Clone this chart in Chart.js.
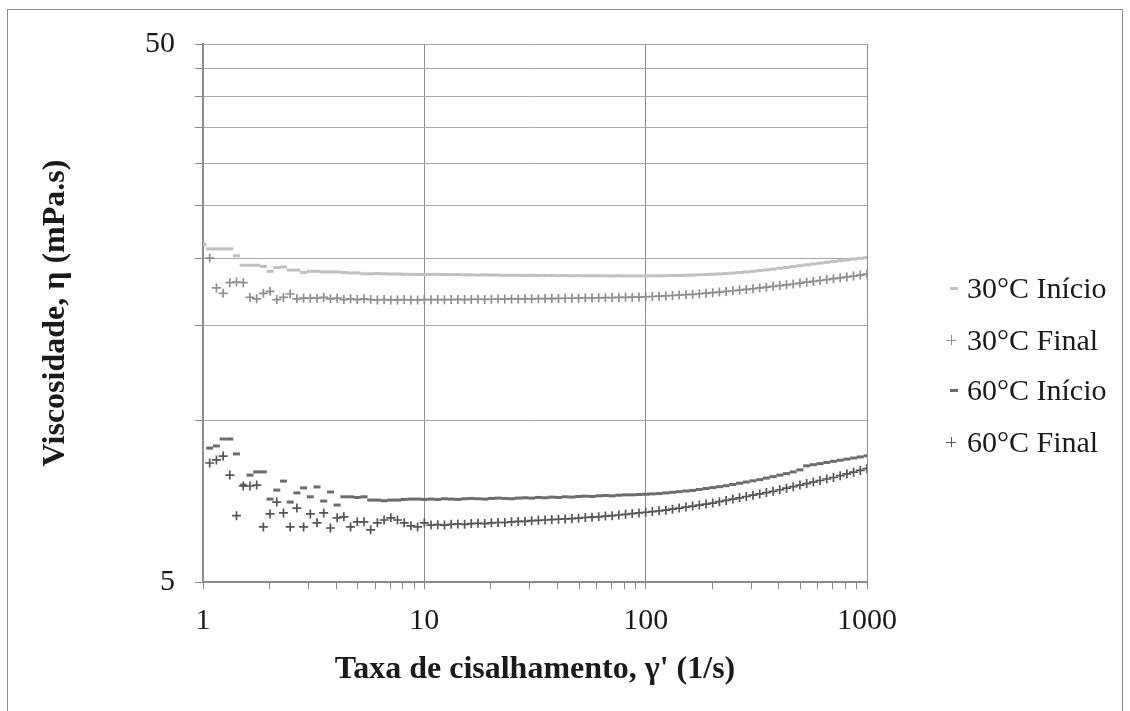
<!DOCTYPE html>
<html lang="pt">
<head>
    <meta charset="UTF-8">
    <title>Viscosidade x Taxa de cisalhamento</title>
    <script src="https://cdn.jsdelivr.net/npm/chart.js"></script>
    <style>
        body { margin: 0; background: #fff; }
        #wrap { position: relative; width: 1130px; height: 711px; overflow: hidden; font-family: "Liberation Serif", "Times New Roman", serif; }
        #frame { position: absolute; left: 7px; top: 9px; width: 1114px; height: 740px; border: 1px solid #8c8c8c; }
        #chart { position: absolute; left: 0; top: 0; }
        .leg { position: absolute; left: 967px; height: 36px; line-height: 36px; font-size: 30px; color: #1a1a1a; white-space: nowrap; }
        .mk { position: absolute; left: -17px; top: 17px; width: 8px; height: 3px; }
        .mk.plus { left: -21px; top: 13px; width: 10px; height: 10px; background: none !important; }
        .mk.plus::before, .mk.plus::after { content: ""; position: absolute; }
        .mk.plus::before { left: 0; top: 4.5px; width: 10px; height: 1.5px; background: var(--c); }
        .mk.plus::after { left: 4.5px; top: 0; width: 1.5px; height: 10px; background: var(--c); }
    </style>
</head>
<body>
<div id="wrap">
    <div id="frame"></div>
    <canvas id="chart" width="1130" height="711"></canvas>
    <div id="legend"></div>
</div>

<script>
    // taxa de cisalhamento (1/s), 100 pontos de 1 a 1000
    const shearRate = [
        1.000, 1.072, 1.150, 1.233, 1.322, 1.417, 1.520, 1.630, 1.748, 1.874, 2.009, 2.154, 2.310, 2.477, 2.656, 2.848, 3.054,
        3.275, 3.511, 3.765, 4.037, 4.329, 4.642, 4.977, 5.337, 5.722, 6.136, 6.579, 7.055, 7.565, 8.111, 8.697, 9.326,
        10.00, 10.72, 11.50, 12.33, 13.22, 14.17, 15.20, 16.30, 17.48, 18.74, 20.09, 21.54, 23.10, 24.77, 26.56, 28.48, 30.54,
        32.75, 35.11, 37.65, 40.37, 43.29, 46.42, 49.77, 53.37, 57.22, 61.36, 65.79, 70.55, 75.65, 81.11, 86.97, 93.26,
        100.0, 107.2, 115.0, 123.3, 132.2, 141.7, 152.0, 163.0, 174.8, 187.4, 200.9, 215.4, 231.0, 247.7, 265.6, 284.8, 305.4,
        327.5, 351.1, 376.5, 403.7, 432.9, 464.2, 497.7, 533.7, 572.2, 613.6, 657.9, 705.5, 756.5, 811.1, 869.7, 932.6,
        1000
    ];

    // viscosidade (mPa.s)
    const visc30Inicio = [
        21.2, 20.8, 20.8, 20.8, 20.8, 20.2, 19.4, 19.4, 19.4, 19.3, 18.9, 19.2, 19.25, 19.0, 19.0, 18.8, 18.9,
        18.9, 18.85, 18.85, 18.85, 18.8, 18.77, 18.77, 18.7, 18.7, 18.72, 18.7, 18.68, 18.68, 18.66, 18.66, 18.65,
        18.65, 18.65, 18.66, 18.64, 18.63, 18.64, 18.62, 18.62, 18.6, 18.61, 18.6, 18.6, 18.58, 18.59, 18.58, 18.57, 18.58,
        18.56, 18.57, 18.56, 18.55, 18.56, 18.55, 18.55, 18.54, 18.55, 18.54, 18.54, 18.53, 18.54, 18.53, 18.53, 18.53,
        18.53, 18.54, 18.54, 18.55, 18.56, 18.57, 18.58, 18.6, 18.62, 18.64, 18.66, 18.69, 18.72, 18.76, 18.8, 18.85, 18.9,
        18.96, 19.02, 19.08, 19.15, 19.22, 19.29, 19.36, 19.43, 19.5, 19.57, 19.64, 19.71, 19.78, 19.85, 19.92, 19.98,
        20.04
    ];
    const visc30Final = [
        null, 20.0, 17.6, 17.2, 18.0, 18.05, 18.0, 16.9, 16.8, 17.2, 17.35, 16.75, 16.9, 17.15, 16.8, 16.85, 16.85,
        16.85, 16.9, 16.8, 16.85, 16.75, 16.8, 16.75, 16.8, 16.75, 16.72, 16.75, 16.72, 16.72, 16.75, 16.72, 16.72,
        16.74, 16.74, 16.75, 16.74, 16.75, 16.76, 16.75, 16.76, 16.77, 16.76, 16.77, 16.78, 16.78, 16.79, 16.79, 16.8, 16.8,
        16.81, 16.82, 16.82, 16.83, 16.84, 16.84, 16.85, 16.86, 16.86, 16.87, 16.88, 16.89, 16.9, 16.91, 16.92, 16.93,
        16.95, 16.97, 16.99, 17.01, 17.04, 17.07, 17.1, 17.13, 17.17, 17.21, 17.25, 17.29, 17.34, 17.39, 17.44, 17.49, 17.54,
        17.6, 17.66, 17.72, 17.78, 17.84, 17.9, 17.97, 18.04, 18.1, 18.17, 18.24, 18.31, 18.38, 18.45, 18.52, 18.6,
        18.68
    ];
    const visc60Inicio = [
        null, 8.87, 8.95, 9.22, 9.22, 8.65, 7.57, 7.90, 8.01, 8.01, 7.13, 7.41, 7.70, 7.04, 7.32, 7.48, 7.20,
        7.51, 7.07, 7.35, 6.95, 7.20, 7.20, 7.18, 7.20, 7.10, 7.10, 7.08, 7.10, 7.10, 7.12, 7.13, 7.13,
        7.12, 7.13, 7.12, 7.14, 7.13, 7.12, 7.14, 7.15, 7.14, 7.13, 7.15, 7.16, 7.15, 7.14, 7.16, 7.17, 7.16,
        7.18, 7.17, 7.19, 7.18, 7.2, 7.19, 7.21, 7.22, 7.21, 7.23, 7.24, 7.23, 7.25, 7.26, 7.26, 7.27,
        7.28, 7.29, 7.3, 7.32, 7.34, 7.36, 7.38, 7.4, 7.43, 7.46, 7.49, 7.52, 7.55, 7.59, 7.63, 7.67, 7.71,
        7.75, 7.8, 7.85, 7.9, 7.95, 8.01, 8.08, 8.22, 8.26, 8.3, 8.34, 8.38, 8.42, 8.46, 8.5, 8.54,
        8.58
    ];
    const visc60Final = [
        null, 8.32, 8.43, 8.57, 7.90, 6.64, 7.54, 7.54, 7.57, 6.33, 6.69, 7.04, 6.72, 6.33, 6.86, 6.33, 6.69,
        6.44, 6.72, 6.30, 6.58, 6.61, 6.33, 6.47, 6.47, 6.25, 6.44, 6.52, 6.58, 6.52, 6.44, 6.36, 6.33,
        6.44, 6.38, 6.39, 6.38, 6.4, 6.41, 6.4, 6.42, 6.43, 6.42, 6.44, 6.45, 6.45, 6.47, 6.48, 6.48, 6.5,
        6.51, 6.52, 6.53, 6.54, 6.55, 6.56, 6.57, 6.59, 6.6, 6.61, 6.63, 6.64, 6.66, 6.68, 6.7, 6.72,
        6.74, 6.76, 6.78, 6.8, 6.83, 6.86, 6.89, 6.92, 6.95, 6.98, 7.01, 7.05, 7.09, 7.13, 7.17, 7.21, 7.25,
        7.29, 7.33, 7.37, 7.42, 7.47, 7.52, 7.57, 7.62, 7.67, 7.72, 7.77, 7.82, 7.88, 7.94, 8.0, 8.06,
        8.12
    ];

    const seriesNames = ['30°C Início', '30°C Final', '60°C Início', '60°C Final'];
    const seriesValues = [visc30Inicio, visc30Final, visc60Inicio, visc60Final];
    const seriesColors = ['#c0c0c0', '#8e8e8e', '#6c6c6c', '#555555'];
    const seriesMarkers = ['line', 'cross', 'line', 'cross'];

    // marcas do eixo x (log) e as que recebem rótulo
    const xTicks = [1, 2, 3, 4, 5, 6, 7, 8, 9, 10, 20, 30, 40, 50, 60, 70, 80, 90,
                    100, 200, 300, 400, 500, 600, 700, 800, 900, 1000];
    const xTickLabels = [1, 10, 100, 1000];
    // linhas de grade do eixo y e rótulos
    const yTicks = [5, 10, 15, 20, 25, 30, 35, 40, 45, 50];
    const yTickLabels = [5, 50];

    const axisColor = '#8c8c8c';
    const serif = "'Liberation Serif', 'Times New Roman', serif";

    const datasets = seriesNames.map((name, s) => ({
        label: name,
        data: shearRate.map((x, i) => ({ x: x, y: seriesValues[s][i] })).filter(p => p.y !== null),
        showLine: false,
        pointStyle: seriesMarkers[s],
        pointRadius: seriesMarkers[s] === 'line' ? 3.5 : 4.5,
        pointBorderWidth: seriesMarkers[s] === 'line' ? 3 : 1.7,
        pointBorderColor: seriesColors[s],
        pointBackgroundColor: seriesColors[s],
        order: seriesNames.length - s
    }));

    new Chart(document.getElementById('chart'), {
        type: 'scatter',
        data: { datasets: datasets },
        options: {
            responsive: false,
            animation: false,
            events: [],
            layout: { padding: { top: 44, right: 263, bottom: 0, left: 0 } },
            plugins: { legend: { display: false }, tooltip: { enabled: false } },
            scales: {
                x: {
                    type: 'logarithmic',
                    min: 1,
                    max: 1000,
                    afterBuildTicks: scale => { scale.ticks = xTicks.map(v => ({ value: v })); },
                    afterFit: scale => { scale.height = 129; },
                    ticks: {
                        autoSkip: false,
                        maxRotation: 0,
                        padding: 14,
                        color: '#1a1a1a',
                        font: { family: serif, size: 30 },
                        callback: v => xTickLabels.includes(v) ? String(v) : ''
                    },
                    grid: {
                        color: ctx => xTickLabels.includes(ctx.tick && ctx.tick.value) ? axisColor : 'rgba(0,0,0,0)',
                        tickColor: axisColor,
                        tickLength: 7,
                        lineWidth: 1
                    },
                    border: { color: axisColor, width: 2 },
                    title: {
                        display: true,
                        text: "Taxa de cisalhamento, γ' (1/s)",
                        color: '#1a1a1a',
                        font: { family: serif, size: 32, weight: 'bold' },
                        padding: { top: 0, bottom: 22 }
                    }
                },
                y: {
                    type: 'logarithmic',
                    min: 5,
                    max: 50,
                    afterBuildTicks: scale => { scale.ticks = yTicks.map(v => ({ value: v })); },
                    afterFit: scale => { scale.width = 203; },
                    ticks: {
                        autoSkip: false,
                        padding: 20,
                        color: '#1a1a1a',
                        font: { family: serif, size: 30 },
                        callback: v => yTickLabels.includes(v) ? String(v) : ''
                    },
                    grid: {
                        color: '#a8a8a8',
                        tickColor: axisColor,
                        tickLength: 8,
                        lineWidth: 1
                    },
                    border: { color: axisColor, width: 2 },
                    title: {
                        display: true,
                        text: 'Viscosidade, η (mPa.s)',
                        color: '#1a1a1a',
                        font: { family: serif, size: 32, weight: 'bold' },
                        padding: { top: 37, bottom: 0 }
                    }
                }
            }
        }
    });

    // legenda à direita
    const legendRows = [288, 340, 390, 442];
    const legendBox = document.getElementById('legend');
    seriesNames.forEach((name, s) => {
        const row = document.createElement('div');
        row.className = 'leg';
        row.style.top = (legendRows[s] - 18) + 'px';
        const mk = document.createElement('span');
        mk.className = 'mk' + (seriesMarkers[s] === 'cross' ? ' plus' : '');
        mk.style.background = seriesColors[s];
        mk.style.setProperty('--c', seriesColors[s]);
        row.appendChild(mk);
        row.appendChild(document.createTextNode(name));
        legendBox.appendChild(row);
    });
</script>
</body>
</html>
